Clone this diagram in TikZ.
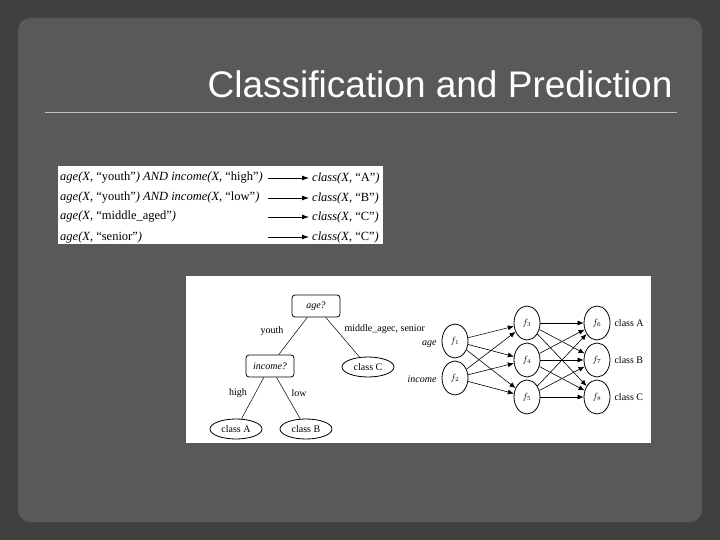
\documentclass[tikz,border=0pt]{standalone}
\usepackage{fontspec}
\setmainfont{Liberation Serif}
\newfontfamily\ttl{Liberation Sans}
\usetikzlibrary{arrows.meta,shapes.geometric}
\begin{document}
\begin{tikzpicture}[x=1pt,y=-1pt,
 tbox/.style={draw,line width=0.8pt,rounded corners=3pt,minimum width=48pt,minimum height=22pt,font=\fontsize{10}{11}\selectfont\itshape,inner sep=1pt},
 tell/.style={draw,line width=0.8pt,ellipse,minimum width=52pt,minimum height=20pt,font=\fontsize{10}{11}\selectfont,inner sep=1pt},
 neu/.style={draw,line width=0.8pt,ellipse,minimum width=26pt,minimum height=34pt,font=\fontsize{9}{10}\selectfont\itshape,inner sep=0pt},
 lbl/.style={font=\fontsize{10}{11}\selectfont},
 rule/.style={font=\fontsize{12.5}{14}\selectfont,anchor=west,inner sep=0pt},
 nedge/.style={-{Latex[length=6pt,width=5pt]},line width=0.6pt}]
\useasboundingbox (0,0) rectangle (720,540);
\fill[black!75] (0,0) rectangle (720,540);
\fill[black!65,rounded corners=12pt] (18,18) rectangle (702,522);
\node[font=\ttl\fontsize{37}{42}\selectfont,text=white,anchor=east] (title) at (676,84) {Classification and Prediction};
\draw[black!25,line width=0.6pt] (45,112) -- (677,112);
% rules
\fill[white] (58,166) rectangle (383,244);
\foreach \y/\l/\r [count=\i] in {178/{\textit{age(X,} ``youth''\textit{) AND income(X,} ``high''\textit{)}}/{\textit{class(X,} ``A''\textit{)}},
 198/{\textit{age(X,} ``youth''\textit{) AND income(X,} ``low''\textit{)}}/{\textit{class(X,} ``B''\textit{)}},
 217/{\textit{age(X,} ``middle\_aged''\textit{)}}/{\textit{class(X,} ``C''\textit{)}},
 237/{\textit{age(X,} ``senior''\textit{)}}/{\textit{class(X,} ``C''\textit{)}}}{
 \node[rule] (l\i) at (60,\y) {\l};
 \node[rule] (r\i) at (312,\y) {\r};
 \coordinate (a\i) at (268,\y);
 \draw[-{Latex[length=7pt,width=5pt]},line width=0.8pt] (a\i) -- ([xshift=-3pt]r\i.west);
}
% tree
\fill[white] (186,276) rectangle (651,443);
\node[tbox] (age) at (316,306) {age?};
\node[tbox] (inc) at (270,366) {income?};
\node[tell] (cC) at (368,367) {class C};
\node[tell] (cA) at (236,429) {class A};
\node[tell] (cB) at (306,429) {class B};
\draw[line width=0.5pt] (age) -- (inc) (age) -- (cC) (inc) -- (cA) (inc) -- (cB);
\node[lbl] (ly) at (272,331) {youth};
\node[lbl,anchor=west] (lm) at (341,329) {middle\_agec, senior};
\node[lbl] (lh) at (238,393) {high};
\node[lbl] (ll) at (299,393) {low};
% network
\node[neu] (f1) at (455,341) {$f_1$};
\node[neu] (f2) at (455,378) {$f_2$};
\node[neu] (f3) at (527,323) {$f_3$};
\node[neu] (f4) at (527,360) {$f_4$};
\node[neu] (f5) at (527,397) {$f_5$};
\node[neu] (f6) at (597,323) {$f_6$};
\node[neu] (f7) at (597,360) {$f_7$};
\node[neu] (f8) at (597,397) {$f_8$};
\node[lbl,anchor=east,font=\fontsize{10}{11}\selectfont\itshape] (la) at (440,344) {age};
\node[lbl,anchor=east,font=\fontsize{10}{11}\selectfont\itshape] (li) at (440,379) {income};
\node[lbl,anchor=west] (o1) at (611,323) {class A};
\node[lbl,anchor=west] (o2) at (611,360) {class B};
\node[lbl,anchor=west] (o3) at (611,397) {class C};
\foreach \a in {f1,f2}{\foreach \b in {f3,f4,f5}{\draw[nedge] (\a) -- (\b);}}
\foreach \a in {f3,f4,f5}{\foreach \b in {f6,f7,f8}{\draw[nedge] (\a) -- (\b);}}
\end{tikzpicture}
\end{document}
